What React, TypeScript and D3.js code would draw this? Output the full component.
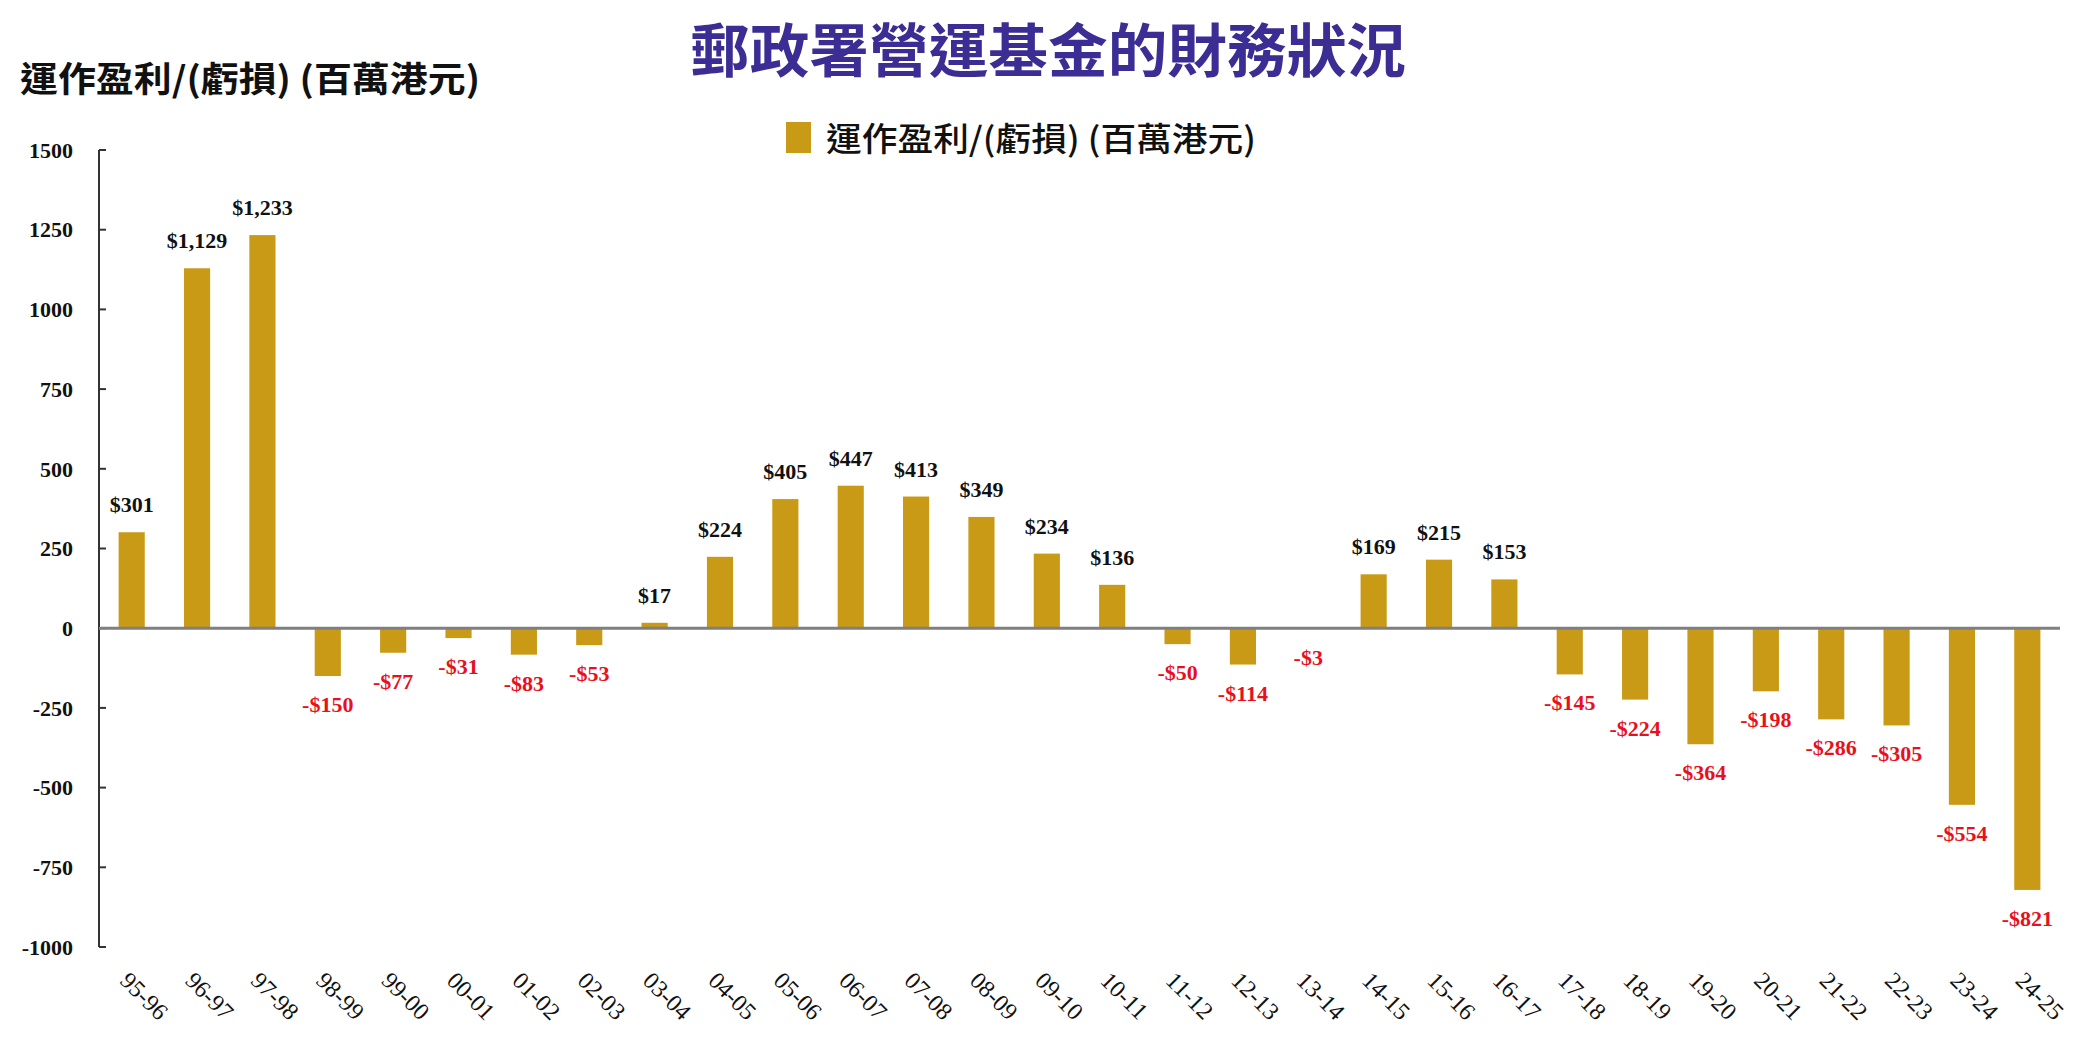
import * as d3 from 'd3';

const categories = [
  '95-96', '96-97', '97-98', '98-99', '99-00', '00-01', '01-02', '02-03', '03-04', '04-05',
  '05-06', '06-07', '07-08', '08-09', '09-10', '10-11', '11-12', '12-13', '13-14', '14-15',
  '15-16', '16-17', '17-18', '18-19', '19-20', '20-21', '21-22', '22-23', '23-24', '24-25',
];
const profit = [
  301, 1129, 1233, -150, -77, -31, -83, -53, 17, 224,
  405, 447, 413, 349, 234, 136, -50, -114, -3, 169,
  215, 153, -145, -224, -364, -198, -286, -305, -554, -821,
];
const yTicks = [1500, 1250, 1000, 750, 500, 250, 0, -250, -500, -750, -1000];

const title = '郵政署營運基金的財務狀況';
const seriesName = '運作盈利/(虧損) (百萬港元)';

const W = 2093;
const H = 1038;
const serif = '"Liberation Serif", "Times New Roman", serif';
const cjk = '"Noto Sans CJK TC", "Noto Sans CJK SC", sans-serif';
const barColor = '#c99a16';

const fmt = (v: number) => (v < 0 ? '-$' : '$') + d3.format(',')(Math.abs(v));

export default function App() {
  const x = d3.scaleBand<string>().domain(categories).range([99, 2060]).paddingInner(0.6).paddingOuter(0.3);
  const y = d3.scaleLinear().domain([-1000, 1500]).range([947, 150]);
  const y0 = y(0);

  return (
    <svg
      width={W}
      height={H}
      viewBox={`0 0 ${W} ${H}`}
      style={{ position: 'absolute', left: 0, top: 0, background: '#fff' }}
    >
      <rect width={W} height={H} fill="#fff" />
      {/* title */}
      <text
        x={1048}
        y={72}
        textAnchor="middle"
        fontFamily={cjk}
        fontWeight={700}
        fontSize={58}
        fill="#3b2d94"
        textLength={716}
        lengthAdjust="spacingAndGlyphs"
      >
        {title}
      </text>

      {/* y-axis title */}
      <text
        x={20}
        y={92}
        fontFamily={cjk}
        fontWeight={700}
        fontSize={35}
        fill="#111"
        textLength={460}
        lengthAdjust="spacingAndGlyphs"
      >
        {seriesName}
      </text>

      {/* legend */}
      <rect x={786} y={122} width={25} height={31} fill={barColor} />
      <text
        x={826}
        y={151}
        fontFamily={cjk}
        fontWeight={500}
        fontSize={33}
        fill="#111"
        textLength={430}
        lengthAdjust="spacingAndGlyphs"
      >
        {seriesName}
      </text>

      {/* y axis */}
      <line x1={99} x2={99} y1={y(1500)} y2={y(-1000)} stroke="#333" strokeWidth={2} />
      {yTicks.map((t) => (
        <g key={t}>
          <line x1={99} x2={106} y1={y(t)} y2={y(t)} stroke="#333" strokeWidth={2} />
          <text
            x={73}
            y={y(t)}
            dy="0.35em"
            textAnchor="end"
            fontFamily={serif}
            fontWeight={700}
            fontSize={22}
            fill="#111"
          >
            {t}
          </text>
        </g>
      ))}

      {/* bars */}
      {profit.map((v, i) => {
        const c = categories[i];
        const bx = x(c) ?? 0;
        const top = Math.min(y(v), y0);
        const h = Math.abs(y(v) - y0);
        return <rect key={c} x={bx} y={top} width={x.bandwidth()} height={h} fill={barColor} />;
      })}

      {/* baseline */}
      <line x1={99} x2={2060} y1={y0} y2={y0} stroke="#7f7f7f" strokeWidth={3} />

      {/* data labels */}
      {profit.map((v, i) => {
        const c = categories[i];
        const cx = (x(c) ?? 0) + x.bandwidth() / 2;
        const ly = v >= 0 ? y(v) - 20 : y(v) + 36;
        return (
          <text
            key={c}
            x={cx}
            y={ly}
            textAnchor="middle"
            fontFamily={serif}
            fontWeight={700}
            fontSize={22}
            fill={v >= 0 ? '#111' : '#e8101c'}
          >
            {fmt(v)}
          </text>
        );
      })}

      {/* x labels */}
      {categories.map((c) => {
        const cx = (x(c) ?? 0) + x.bandwidth() / 2;
        const lx = cx - 13;
        const ly = 982;
        return (
          <text
            key={c}
            x={lx}
            y={ly}
            transform={`rotate(45, ${lx}, ${ly})`}
            fontFamily={serif}
            fontSize={24}
            fill="#111"
          >
            {c}
          </text>
        );
      })}
    </svg>
  );
}
